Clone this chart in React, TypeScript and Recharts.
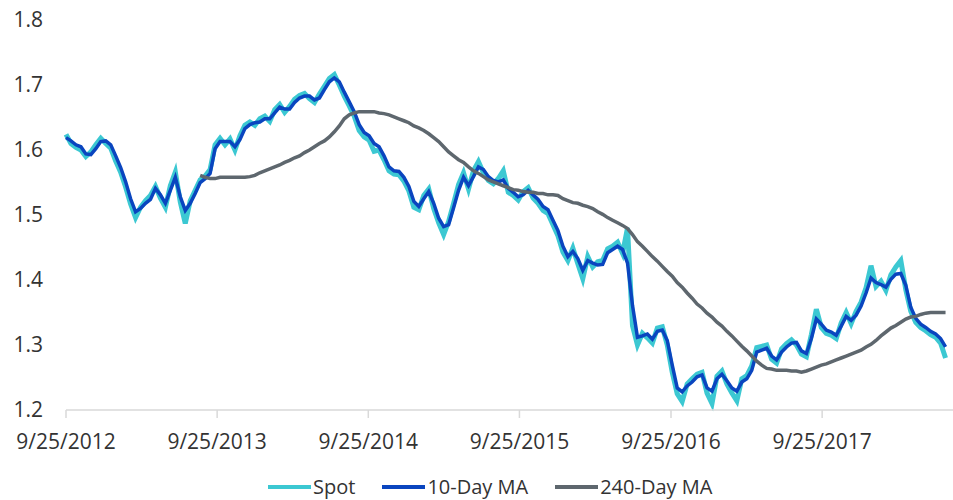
import React from 'react';
import { LineChart, Line, XAxis, YAxis } from 'recharts';

// one point every 12 days from 9/25/2012
const stepDays = 12;
const tickDays = [0, 365, 730, 1095, 1461, 1826];
const tickLabels = ['9/25/2012', '9/25/2013', '9/25/2014', '9/25/2015', '9/25/2016', '9/25/2017'];
const yTicks = [1.2, 1.3, 1.4, 1.5, 1.6, 1.7, 1.8];

const spot = [
  1.624, 1.610, 1.604, 1.600, 1.590, 1.597, 1.608, 1.618, 1.610, 1.603,
  1.583, 1.566, 1.543, 1.517, 1.496, 1.512, 1.522, 1.530, 1.544, 1.526,
  1.512, 1.545, 1.566, 1.520, 1.487, 1.522, 1.538, 1.554, 1.560, 1.570,
  1.608, 1.618, 1.608, 1.617, 1.600, 1.622, 1.638, 1.643, 1.638, 1.648,
  1.652, 1.644, 1.662, 1.670, 1.658, 1.667, 1.678, 1.684, 1.687, 1.679,
  1.673, 1.686, 1.698, 1.710, 1.716, 1.700, 1.683, 1.668, 1.652, 1.630,
  1.620, 1.615, 1.598, 1.600, 1.585, 1.568, 1.563, 1.562, 1.552, 1.537,
  1.512, 1.508, 1.530, 1.540, 1.510, 1.488, 1.470, 1.490, 1.518, 1.547,
  1.565, 1.540, 1.568, 1.582, 1.565, 1.553, 1.548, 1.556, 1.568, 1.535,
  1.530, 1.523, 1.536, 1.542, 1.526, 1.518, 1.507, 1.502, 1.485, 1.468,
  1.443, 1.430, 1.449, 1.425, 1.402, 1.436, 1.420, 1.428, 1.430, 1.448,
  1.452, 1.458, 1.441, 1.480, 1.330, 1.300, 1.318, 1.311, 1.303, 1.326,
  1.328, 1.300, 1.258, 1.225, 1.213, 1.240, 1.248, 1.255, 1.258, 1.226,
  1.210, 1.252, 1.260, 1.240, 1.226, 1.214, 1.248, 1.253, 1.268, 1.296,
  1.298, 1.300, 1.278, 1.272, 1.294, 1.302, 1.308, 1.300, 1.286, 1.282,
  1.316, 1.355, 1.327, 1.318, 1.315, 1.310, 1.334, 1.350, 1.333, 1.352,
  1.366, 1.388, 1.422, 1.390, 1.398, 1.384, 1.408, 1.420, 1.430, 1.385,
  1.352, 1.335, 1.327, 1.322, 1.316, 1.312, 1.303, 1.280,
];

const ma10 = [
  1.619, 1.614, 1.608, 1.605, 1.594, 1.593, 1.602, 1.613, 1.614, 1.608,
  1.591, 1.573, 1.551, 1.525, 1.505, 1.510, 1.518, 1.524, 1.541, 1.531,
  1.518, 1.538, 1.558, 1.528, 1.507, 1.518, 1.533, 1.550, 1.556, 1.564,
  1.602, 1.613, 1.613, 1.613, 1.605, 1.616, 1.633, 1.639, 1.642, 1.643,
  1.648, 1.648, 1.657, 1.666, 1.663, 1.663, 1.673, 1.680, 1.683, 1.683,
  1.677, 1.680, 1.693, 1.705, 1.711, 1.705, 1.689, 1.674, 1.659, 1.639,
  1.627, 1.622, 1.610, 1.605, 1.591, 1.574, 1.568, 1.567, 1.558, 1.544,
  1.521, 1.513, 1.525, 1.536, 1.518, 1.495, 1.482, 1.485, 1.511, 1.538,
  1.558, 1.545, 1.559, 1.574, 1.570, 1.559, 1.553, 1.551, 1.554, 1.541,
  1.535, 1.528, 1.531, 1.538, 1.531, 1.524, 1.513, 1.508, 1.492, 1.476,
  1.452, 1.436, 1.444, 1.433, 1.415, 1.430, 1.426, 1.423, 1.424, 1.442,
  1.447, 1.452, 1.447, 1.426, 1.361, 1.312, 1.314, 1.317, 1.309, 1.321,
  1.323, 1.307, 1.269, 1.234, 1.228, 1.237, 1.243, 1.251, 1.254, 1.234,
  1.229, 1.248, 1.255, 1.245, 1.234, 1.229, 1.243, 1.248, 1.261, 1.289,
  1.292, 1.295, 1.283, 1.277, 1.289, 1.297, 1.303, 1.304, 1.291, 1.287,
  1.310, 1.340, 1.332, 1.323, 1.320, 1.315, 1.329, 1.344, 1.338, 1.346,
  1.360, 1.380, 1.403, 1.396, 1.393, 1.389, 1.401, 1.409, 1.410, 1.392,
  1.358, 1.341, 1.332, 1.327, 1.321, 1.317, 1.310, 1.297,
];

// 240-day MA only begins once enough history exists
const ma240Start = 27;
const ma240 = [
  1.561, 1.558, 1.556, 1.556, 1.558, 1.558, 1.558, 1.558, 1.558, 1.558,
  1.559, 1.561, 1.565, 1.568, 1.571, 1.574, 1.577, 1.581, 1.584, 1.588,
  1.591, 1.596, 1.600, 1.605, 1.610, 1.614, 1.620, 1.628, 1.637, 1.648,
  1.654, 1.657, 1.659, 1.659, 1.659, 1.659, 1.657, 1.656, 1.654, 1.651,
  1.648, 1.645, 1.642, 1.637, 1.634, 1.630, 1.625, 1.619, 1.613, 1.605,
  1.597, 1.591, 1.585, 1.581, 1.574, 1.568, 1.564, 1.559, 1.554, 1.551,
  1.548, 1.545, 1.542, 1.539, 1.538, 1.536, 1.535, 1.535, 1.533, 1.533,
  1.531, 1.531, 1.530, 1.525, 1.522, 1.519, 1.518, 1.515, 1.513, 1.510,
  1.505, 1.501, 1.496, 1.492, 1.488, 1.484, 1.479, 1.470, 1.459, 1.452,
  1.444, 1.436, 1.429, 1.421, 1.413, 1.406, 1.396, 1.389, 1.380, 1.372,
  1.363, 1.357, 1.349, 1.343, 1.335, 1.329, 1.321, 1.314, 1.306, 1.298,
  1.291, 1.283, 1.275, 1.269, 1.264, 1.263, 1.261, 1.261, 1.261, 1.260,
  1.260, 1.258, 1.260, 1.263, 1.266, 1.269, 1.271, 1.274, 1.277, 1.280,
  1.283, 1.286, 1.289, 1.292, 1.297, 1.301, 1.307, 1.314, 1.320, 1.326,
  1.330, 1.335, 1.340, 1.343, 1.344, 1.347, 1.349, 1.350, 1.350, 1.350, 1.350,
];

const series = [
  { key: 'spot', name: 'Spot', color: '#3cc8d2', width: 5 },
  { key: 'ma10', name: '10-Day MA', color: '#0a45bf', width: 3.5 },
  { key: 'ma240', name: '240-Day MA', color: '#5e676e', width: 3.5 },
];

const data = spot.map((v, i) => ({
  t: i * stepDays,
  spot: v,
  ma10: ma10[i],
  ma240: i >= ma240Start ? ma240[i - ma240Start] : null,
}));

const font = "'Open Sans', sans-serif";
const textColor = '#333333';

export default function App() {
  return (
    <div style={{ position: 'fixed', left: 0, top: 0, width: 953, height: 500, background: '#fff', fontFamily: font }}>
      <LineChart width={953} height={460} data={data} margin={{ top: 20, right: 0, left: 0, bottom: 0 }}>
        <XAxis
          dataKey="t"
          type="number"
          domain={[0, 2142]}
          ticks={tickDays}
          tickFormatter={(d) => tickLabels[tickDays.indexOf(d)]}
          height={50}
          stroke="#d9d9d9"
          strokeWidth={1.5}
          tickSize={8}
          tickMargin={16}
          tick={{ fill: textColor, fontSize: 21, fontFamily: font }}
          interval={0}
        />
        <YAxis
          domain={[1.2, 1.8]}
          ticks={yTicks}
          width={66}
          axisLine={false}
          tickLine={false}
          tickSize={0}
          tickMargin={23}
          tickFormatter={(v) => v.toFixed(1)}
          tick={{ fill: textColor, fontSize: 21, fontFamily: font }}
          interval={0}
        />
        {series.map((s) => (
          <Line
            key={s.key}
            type="linear"
            dataKey={s.key}
            name={s.name}
            stroke={s.color}
            strokeWidth={s.width}
            dot={false}
            connectNulls={false}
            isAnimationActive={false}
          />
        ))}
      </LineChart>
      <div style={{ position: 'absolute', top: 476, left: 268, display: 'flex', alignItems: 'center', fontSize: 20, lineHeight: '22px', color: textColor }}>
        {series.map((s) => (
          <div key={s.key} style={{ display: 'flex', alignItems: 'center', marginRight: 27 }}>
            <span style={{ display: 'inline-block', width: 43, height: 4, background: s.color, marginRight: 2 }} />
            <span>{s.name}</span>
          </div>
        ))}
      </div>
    </div>
  );
}
